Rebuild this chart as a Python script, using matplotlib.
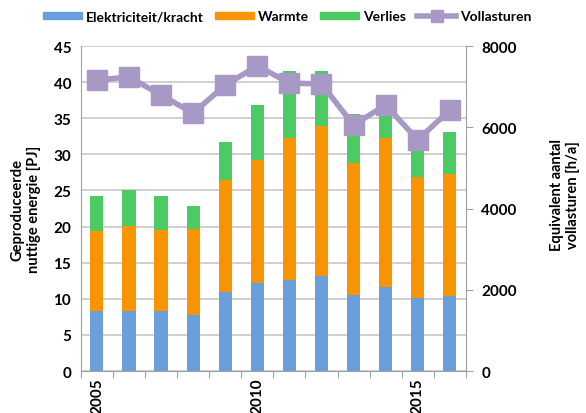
import numpy as np
import matplotlib.pyplot as plt
from matplotlib.patches import Patch
from matplotlib.lines import Line2D

plt.rcParams['font.family'] = ['Lato', 'DejaVu Sans']
plt.rcParams['font.weight'] = 'bold'

years = list(range(2005, 2017))
elektriciteit = [8.3, 8.3, 8.3, 7.8, 11.0, 12.2, 12.6, 13.2, 10.5, 11.6, 10.1, 10.4]
warmte_top = [19.4, 20.1, 19.5, 19.7, 26.5, 29.2, 32.3, 33.9, 28.8, 32.3, 26.9, 27.3]
totaal = [24.2, 25.1, 24.2, 22.9, 31.7, 36.8, 41.5, 41.5, 35.6, 35.9, 33.1, 33.1]
vollasturen = [7160, 7240, 6790, 6350, 7040, 7510, 7090, 7065, 6055, 6550, 5690, 6425]

elek = np.array(elektriciteit)
warmte = np.array(warmte_top) - elek
verlies = np.array(totaal) - np.array(warmte_top)

c_blue = '#6A9FDB'
c_orange = '#F79400'
c_green = '#4CCB62'
c_purple = '#A898C6'
grid_c = '#C8C8C8'

fig = plt.figure(figsize=(5.86, 4.14), dpi=100)
ax = fig.add_axes([0.138, 0.1014, 0.657, 0.785])
x = np.arange(len(years))
w = 0.41
ax.bar(x, elek, w, color=c_blue, zorder=2)
ax.bar(x, warmte, w, bottom=elek, color=c_orange, zorder=2)
ax.bar(x, verlies, w, bottom=np.array(warmte_top), color=c_green, zorder=2)

ax.set_xlim(-0.5, len(years) - 0.5)
ax.set_ylim(0, 45)
ax.set_yticks(np.arange(0, 46, 5))
ax.yaxis.grid(True, color=grid_c, linewidth=1.2, zorder=0)
ax.set_axisbelow(True)
ax.tick_params(axis='y', length=0, labelsize=11, pad=7)
ax.set_xticks(np.arange(-0.5, len(years), 1))
ax.set_xticklabels([])
ax.tick_params(axis='x', length=5, color='#A0A0A0', direction='out')
for i, yr in enumerate(years):
    if yr % 5 == 0:
        ax.text(i, -0.9, str(yr), rotation=90, ha='center', va='top', fontsize=11, fontweight='bold')
for s in ['top', 'right']:
    ax.spines[s].set_visible(False)
for s in ['left', 'bottom']:
    ax.spines[s].set_color('#A0A0A0')
ax.set_ylabel('Geproduceerde\nnuttige energie [PJ]', fontsize=10.5, fontweight='bold')
ax.yaxis.set_label_coords(-0.103, 0.5)

ax2 = ax.twinx()
ax2.plot(x, vollasturen, color=c_purple, linewidth=4, marker='s', markersize=14, zorder=3)
ax2.set_ylim(0, 8000)
ax2.set_yticks(np.arange(0, 8001, 2000))
ax2.tick_params(axis='y', length=5, color='#A0A0A0', labelsize=11, pad=6)
for s in ['top', 'left', 'bottom']:
    ax2.spines[s].set_visible(False)
ax2.spines['right'].set_color('#A0A0A0')
ax2.set_ylabel('Equivalent aantal\nvollasturen [h/a]', fontsize=10.5, fontweight='bold')
ax2.yaxis.set_label_coords(1.218, 0.545)

handles = [Patch(color=c_blue), Patch(color=c_orange), Patch(color=c_green),
           Line2D([], [], color=c_purple, linewidth=4, marker='s', markersize=9)]
labels = ['Elektriciteit/kracht', 'Warmte', 'Verlies', 'Vollasturen']
fig.legend(handles, labels, loc='center', bbox_to_anchor=(0.49, 0.958), ncol=4, frameon=False,
           fontsize=10, handlelength=2.8, handleheight=0.4, columnspacing=0.8, handletextpad=0.3)

fig.savefig('out.png', dpi=100)
